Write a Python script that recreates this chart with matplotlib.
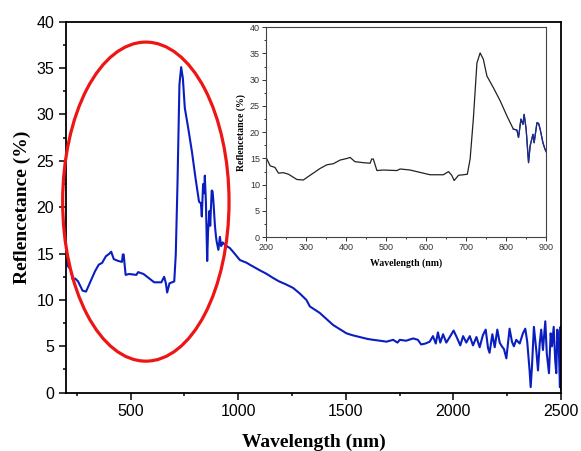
"""Reflectance spectrum with zoomed UV-VIS inset."""

import matplotlib

matplotlib.use("Agg")
import matplotlib.pyplot as plt
import numpy as np
from matplotlib.patches import Ellipse
from matplotlib.ticker import MultipleLocator

WAVELENGTH = [
    200, 210, 222, 231, 243, 256, 277, 293, 310, 335, 352, 368, 385, 402, 410,
    422, 443, 460, 464, 468, 477, 493, 527, 535, 560, 593, 610, 643, 656, 664,
    670, 681, 693, 703, 710, 718, 727, 735, 743, 752, 768, 785, 802, 818, 827,
    831, 837, 842, 845, 850, 856, 860, 867, 870, 877, 881, 885, 892, 897, 900,
    908, 915, 921, 928, 940, 961, 976, 1008, 1040, 1054, 1100, 1133, 1160, 1190,
    1220, 1255, 1286, 1317, 1333, 1379, 1441, 1503, 1530, 1565, 1600, 1627, 1660,
    1689, 1720, 1740, 1751, 1780, 1813, 1835, 1850, 1870, 1890, 1905, 1918, 1928,
    1939, 1952, 1967, 1983, 2001, 2017, 2032, 2045, 2060, 2076, 2091, 2107, 2122,
    2137, 2150, 2161, 2168, 2181, 2192, 2204, 2215, 2225, 2235, 2246, 2261, 2272,
    2281, 2292, 2308, 2323, 2334, 2343, 2354, 2359, 2365, 2374, 2385, 2393, 2401,
    2408, 2416, 2427, 2434, 2444, 2452, 2458, 2466, 2473, 2478, 2483, 2490, 2495,
    2498, 2500,
]
REFLECTANCE = [
    15.2, 13.6, 13.3, 12.2, 12.3, 12.0, 11.0, 10.9, 11.8, 13.1, 13.8, 14.0, 14.7,
    15.0, 15.2, 14.4, 14.2, 14.1, 14.9, 14.9, 12.7, 12.8, 12.7, 13.0, 12.8, 12.2,
    11.9, 11.9, 12.5, 11.8, 10.8, 11.8, 11.9, 12.0, 14.9, 22.5, 33.2, 35.1, 33.9,
    30.7, 28.5, 26.0, 23.1, 20.6, 20.4, 19.0, 22.5, 21.5, 23.4, 20.6, 14.2, 17.4,
    19.6, 18.0, 21.8, 21.7, 20.6, 18.0, 16.8, 16.3, 15.4, 16.8, 15.8, 16.2, 15.9,
    15.6, 15.2, 14.3, 14.0, 13.8, 13.2, 12.8, 12.4, 12.0, 11.7, 11.3, 10.7, 10.0,
    9.3, 8.6, 7.3, 6.4, 6.2, 6.0, 5.8, 5.7, 5.6, 5.5, 5.7, 5.4, 5.7, 5.6, 5.85,
    5.7, 5.2, 5.3, 5.5, 6.1, 5.3, 6.5, 5.4, 6.3, 5.4, 6.0, 6.7, 5.9, 5.1, 6.1,
    5.4, 6.1, 5.1, 6.0, 4.9, 6.2, 6.8, 4.8, 4.3, 6.3, 4.9, 6.8, 5.4, 5.0, 4.7,
    3.7, 6.9, 5.5, 5.0, 5.7, 5.3, 6.4, 6.9, 5.5, 2.4, 0.6, 2.8, 7.1, 4.6, 2.4,
    5.3, 6.8, 4.6, 7.7, 4.2, 2.1, 6.4, 5.0, 7.1, 3.5, 2.1, 6.8, 4.6, 0.6, 7.1,
    0.3,
]
MAIN_XTICKS = [500, 1000, 1500, 2000, 2500]
INSET_XTICKS = [200, 300, 400, 500, 600, 700, 800, 900]

SERIF = ["Liberation Serif", "DejaVu Serif"]
plt.rcParams["font.family"] = ["Liberation Sans", "DejaVu Sans"]

wl = np.array(WAVELENGTH, dtype=float)
rf = np.array(REFLECTANCE, dtype=float)

fig = plt.figure(figsize=(5.81, 4.51), dpi=100)
ax = fig.add_axes([0.1136, 0.1293, 0.852, 0.8226])
ax.plot(wl, rf, color="#0a1ec0", lw=1.5, zorder=2)
ax.set_xlim(200, 2500)
ax.set_ylim(0, 40)
ax.set_xticks(MAIN_XTICKS)
ax.xaxis.set_minor_locator(MultipleLocator(250))
ax.yaxis.set_major_locator(MultipleLocator(5))
ax.yaxis.set_minor_locator(MultipleLocator(2.5))
ax.tick_params(which="both", direction="out", width=1.1, labelsize=11.5)
ax.tick_params(which="major", length=5)
ax.tick_params(which="minor", length=2.5)
for sp in ax.spines.values():
    sp.set_linewidth(1.3)
ax.set_xlabel("Wavelength (nm)", family=SERIF, fontweight="bold", fontsize=14, labelpad=10)
ax.set_ylabel("Reflencetance (%)", family=SERIF, fontweight="bold", fontsize=14, labelpad=4)

ring = Ellipse((571, 20.6), width=773, height=34.4, fill=False,
               edgecolor="#ee1515", lw=2.3, clip_on=False, zorder=4)
ax.add_patch(ring)

# inset: zoom on 200-900 nm
ins = fig.add_axes([0.458, 0.474, 0.482, 0.4656])
ins.set_facecolor("white")
mask = wl <= 900
ins.plot(wl[mask], rf[mask], color="#222222", lw=0.9)
tail = (wl >= 818) & mask
ins.plot(wl[tail], rf[tail], color="#1a2a9a", lw=0.9)
ins.set_xlim(200, 900)
ins.set_ylim(0, 40)
ins.set_xticks(INSET_XTICKS)
ins.xaxis.set_minor_locator(MultipleLocator(50))
ins.yaxis.set_major_locator(MultipleLocator(5))
ins.yaxis.set_minor_locator(MultipleLocator(2.5))
ins.tick_params(which="both", direction="out", width=0.7, labelsize=6.5,
                colors="#333333", pad=1.5)
ins.tick_params(which="major", length=3)
ins.tick_params(which="minor", length=1.5)
for sp in ins.spines.values():
    sp.set_linewidth(0.8)
    sp.set_color("#444444")
ins.set_xlabel("Wavelength (nm)", family=SERIF, fontweight="bold", fontsize=7, labelpad=4)
ins.set_ylabel("Reflencetance (%)", family=SERIF, fontweight="bold", fontsize=7, labelpad=3)

fig.savefig("out.png", dpi=100)
